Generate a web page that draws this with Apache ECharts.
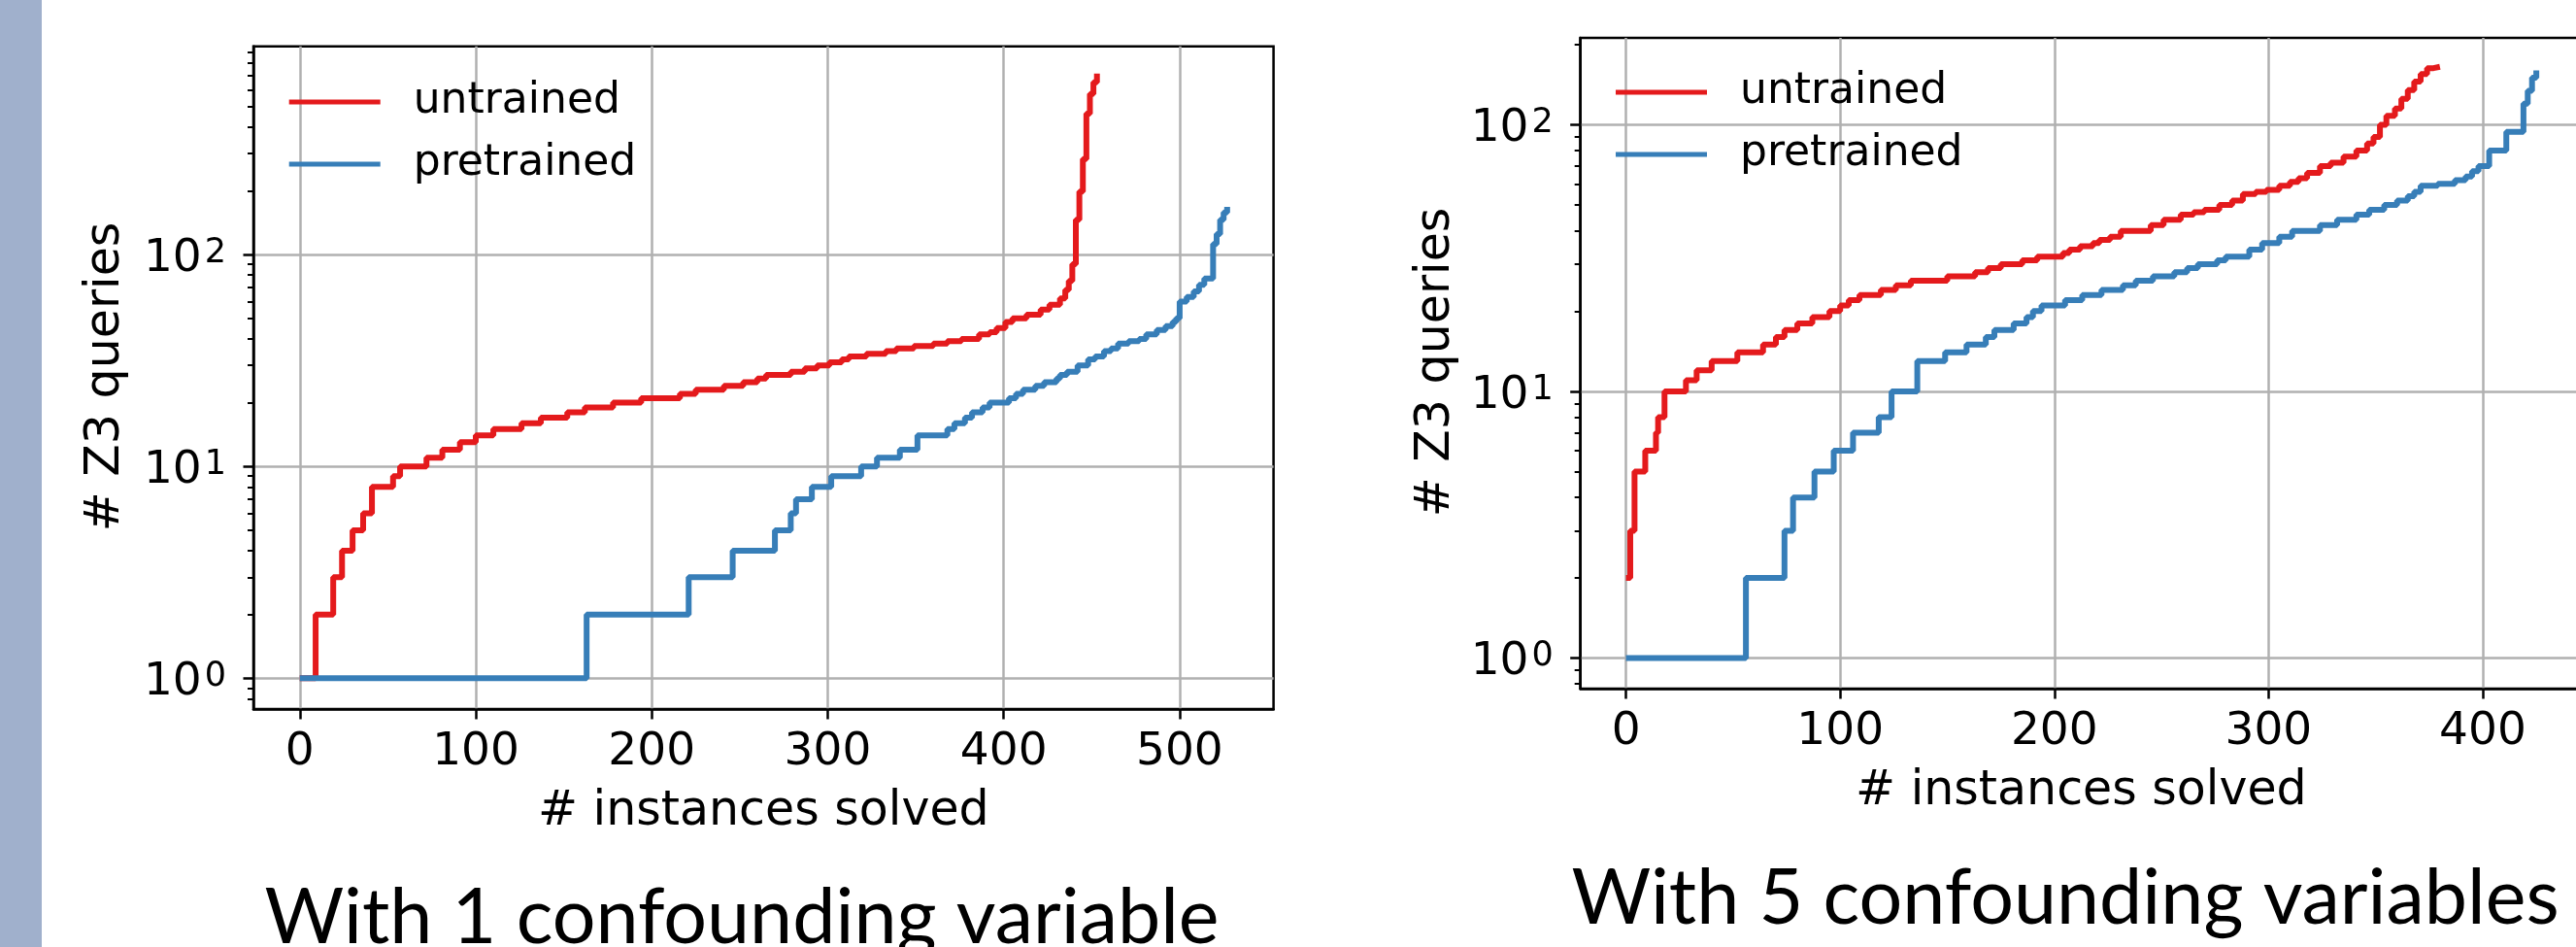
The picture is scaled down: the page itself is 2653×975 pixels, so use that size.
<!DOCTYPE html>
<html><head><meta charset="utf-8">
<script src="https://cdn.jsdelivr.net/npm/echarts@6/dist/echarts.min.js"></script>
<style>html,body{margin:0;padding:0;background:#fff;overflow:hidden}#c{width:2653px;height:975px}</style>
</head><body><div id="c"></div>
<script>
// ---------- data ----------
const seriesNames = ['untrained', 'pretrained'];
const xTicksLeft = [0, 100, 200, 300, 400, 500];
const xTicksRight = [0, 100, 200, 300, 400];
const yMajorTicks = [1, 10, 100];
const yMinorTicksLeft = [0.8, 0.9, 2, 3, 4, 5, 6, 7, 8, 9, 20, 30, 40, 50, 60, 70, 80, 90, 200, 300, 400, 500, 600, 700, 800, 900];
const yMinorTicksRight = [0.8, 0.9, 2, 3, 4, 5, 6, 7, 8, 9, 20, 30, 40, 50, 60, 70, 80, 90, 200];
const captions = ['With 1 confounding variable', 'With 5 confounding variables'];
const xTitle = '# instances solved';
const yTitle = '# Z3 queries';

// panel 1 (1 confounding variable): step breakpoints (instance index, queries)
const untrained1X = [0, 9, 19, 24, 30, 36, 41, 53, 57, 72, 81, 91, 100, 110, 126, 137, 152, 162, 178, 194, 216, 225, 241, 252, 260, 265, 279, 287, 294, 301, 308, 312, 322, 333, 339, 349, 360, 368, 376, 386, 392, 396, 401, 405, 413, 421, 426, 432, 435, 437, 439, 441, 443, 445, 447, 449, 451, 453];
const untrained1Y = [1, 2, 3, 4, 5, 6, 8, 9, 10, 11, 12, 13, 14, 15, 16, 17, 18, 19, 20, 21, 22, 23, 24, 25, 26, 27, 28, 29, 30, 31, 32, 33, 34, 35, 36, 37, 38, 39, 40, 42, 43, 45, 48, 50, 52, 55, 58, 62, 68, 75, 90, 146, 198, 282, 462, 572, 650, 714];
const pretrained1X = [0, 163, 221, 246, 270, 279, 282, 291, 302, 319, 328, 341, 351, 368, 372, 378, 382, 388, 392, 403, 407, 411, 418, 423, 430, 432, 436, 442, 448, 452, 457, 461, 465, 471, 477, 481, 487, 492, 496, 498, 500, 504, 508, 511, 514, 519, 521, 523, 525, 527];
const pretrained1Y = [1, 2, 3, 4, 5, 6, 7, 8, 9, 10, 11, 12, 14, 15, 16, 17, 18, 19, 20, 21, 22, 23, 24, 25, 26, 27, 28, 30, 32, 33, 35, 36, 38, 39, 40, 42, 44, 46, 48, 50, 60, 63, 67, 72, 77, 112, 125, 146, 158, 168];

// panel 2 (5 confounding variables)
const untrained5X = [0, 2, 4, 9, 14, 15, 18, 28, 33, 40, 52, 64, 70, 74, 80, 87, 95, 100, 104, 109, 119, 126, 133, 150, 163, 169, 175, 185, 192, 204, 207, 212, 218, 221, 226, 231, 245, 251, 259, 265, 270, 277, 283, 288, 294, 299, 305, 310, 314, 318, 324, 329, 335, 341, 346, 349, 352, 355, 359, 362, 365, 368, 371, 374, 377, 380];
const untrained5Y = [2, 3, 5, 6, 7, 8, 10, 11, 12, 13, 14, 15, 16, 17, 18, 19, 20, 21, 22, 23, 24, 25, 26, 27, 28, 29, 30, 31, 32, 33, 34, 35, 36, 37, 38, 40, 42, 44, 46, 47, 48, 50, 52, 55, 56, 57, 59, 61, 63, 66, 70, 72, 76, 80, 85, 90, 100, 108, 115, 125, 135, 145, 155, 163, 165, 165];
const pretrained5X = [0, 56, 74, 78, 88, 97, 106, 118, 124, 136, 149, 159, 168, 172, 181, 187, 190, 194, 205, 213, 222, 232, 238, 246, 256, 262, 267, 276, 280, 291, 297, 305, 311, 324, 332, 341, 347, 354, 360, 365, 368, 371, 379, 387, 392, 395, 398, 403, 411, 419, 421, 423, 425];
const pretrained5Y = [1, 2, 3, 4, 5, 6, 7, 8, 10, 13, 14, 15, 16, 17, 18, 19, 20, 21, 22, 23, 24, 25, 26, 27, 28, 29, 30, 31, 32, 34, 36, 38, 40, 42, 44, 46, 48, 50, 52, 54, 56, 59, 60, 62, 64, 67, 70, 80, 94, 120, 134, 150, 160];

// ---------- styling ----------
const RED = '#e41a1c', BLUE = '#377eb8';
const FONT = 'DejaVu Sans';
const GRIDC = '#b0b0b0';

function pairs(xs, ys) { return xs.map((x, i) => [x, ys[i]]); }
function supLabel(v) { const e = Math.round(Math.log10(v)); return '10{s|' + e + '}'; }

function xAxisCfg(gi, min, max, ticks) {
  return {
    type: 'value', gridIndex: gi, min: min, max: max,
    name: xTitle, nameLocation: 'middle', nameGap: 82,
    nameTextStyle: { fontFamily: FONT, fontSize: 49, color: '#000', verticalAlign: 'top' },
    axisLine: { show: true, onZero: false, lineStyle: { color: '#000', width: 2.5 } },
    axisTick: { show: true, length: 10.5, lineStyle: { color: '#000', width: 2.5 }, customValues: ticks },
    axisLabel: { show: true, margin: 21, fontFamily: FONT, fontSize: 47, color: '#000', customValues: ticks, showMinLabel: true, showMaxLabel: true },
    splitLine: { show: true, lineStyle: { color: GRIDC, width: 2.5 } }
  };
}
function yAxisMain(gi, min, max) {
  return {
    type: 'log', logBase: 10, gridIndex: gi, min: min, max: max, position: 'left',
    axisLine: { show: true, onZero: false, lineStyle: { color: '#000', width: 2.5 } },
    axisTick: { show: true, length: 10.5, lineStyle: { color: '#000', width: 2.5 }, customValues: yMajorTicks },
    axisLabel: {
      show: true, margin: 28, customValues: yMajorTicks, formatter: supLabel,
      fontFamily: FONT, fontSize: 47, color: '#000', padding: [9, 0, 0, 0],
      rich: { s: { fontFamily: FONT, fontSize: 35, color: '#000', lineHeight: 19, verticalAlign: 'top', padding: [0, 0, 0, 3] } }
    },
    splitLine: { show: true, lineStyle: { color: GRIDC, width: 2.5 } },
    minorTick: { show: false }
  };
}
function yAxisMinor(gi, min, max, ticks) {
  return {
    type: 'log', logBase: 10, gridIndex: gi, min: min, max: max, position: 'left', offset: 0,
    axisLine: { show: false, onZero: false },
    axisTick: { show: true, length: 6, lineStyle: { color: '#000', width: 2 }, customValues: ticks },
    axisLabel: { show: false },
    splitLine: { show: false }
  };
}
function lineSeries(name, color, xi, yi, data) {
  return {
    name: name, type: 'line', xAxisIndex: xi, yAxisIndex: yi, data: data,
    step: 'end', showSymbol: false, symbol: 'none', animation: false,
    lineStyle: { color: color, width: 6 },
    itemStyle: { color: color },
    emphasis: { disabled: true }
  };
}
function legendCfg(left, top) {
  return {
    data: seriesNames, orient: 'vertical', left: left, top: top, padding: 0,
    icon: 'rect', itemWidth: 94, itemHeight: 5, itemGap: 20,
    selectedMode: false,
    textStyle: { fontFamily: FONT, fontSize: 44, color: '#000', padding: [7, 0, 0, 29] }
  };
}

const chart = echarts.init(document.getElementById('c'), null, { renderer: 'canvas' });
chart.setOption({
  backgroundColor: '#fff',
  animation: false,
  grid: [
    { left: 261, top: 47.7, width: 1050.6, height: 682.3, containLabel: false, outerBoundsMode: 'none', show: true, borderColor: '#000', borderWidth: 2.5, backgroundColor: 'transparent' },
    { left: 1627.7, top: 39, width: 1031.3, height: 670, containLabel: false, outerBoundsMode: 'none', show: true, borderColor: '#000', borderWidth: 2.5, backgroundColor: 'transparent' }
  ],
  xAxis: [
    xAxisCfg(0, -26.35, 553.35, xTicksLeft),
    xAxisCfg(1, -21.25, 446.25, xTicksRight)
  ],
  yAxis: [
    yAxisMain(0, 0.716, 961),
    yAxisMinor(0, 0.716, 961, yMinorTicksLeft),
    yAxisMain(1, 0.768, 211.7),
    yAxisMinor(1, 0.768, 211.7, yMinorTicksRight)
  ],
  legend: [legendCfg(297.7, 83), legendCfg(1664, 73)],
  series: [
    lineSeries(seriesNames[0], RED, 0, 0, pairs(untrained1X, untrained1Y)),
    lineSeries(seriesNames[1], BLUE, 0, 0, pairs(pretrained1X, pretrained1Y)),
    lineSeries(seriesNames[0], RED, 1, 2, pairs(untrained5X, untrained5Y)),
    lineSeries(seriesNames[1], BLUE, 1, 2, pairs(pretrained5X, pretrained5Y))
  ],
  graphic: [
    { type: 'rect', left: 0, top: 0, shape: { x: 0, y: 0, width: 43, height: 975 }, style: { fill: '#a0b0cc' }, silent: true },
    { type: 'text', x: 109.5, y: 388, rotation: Math.PI / 2, style: { text: yTitle, fontFamily: FONT, fontSize: 49, fill: '#000', textAlign: 'center', textVerticalAlign: 'middle' } },
    { type: 'text', x: 1479, y: 373, rotation: Math.PI / 2, style: { text: yTitle, fontFamily: FONT, fontSize: 49, fill: '#000', textAlign: 'center', textVerticalAlign: 'middle' } },
    { type: 'text', x: 764, y: 946, style: { text: captions[0], fontFamily: 'Lato', fontSize: 79, fill: '#000', textAlign: 'center', textVerticalAlign: 'middle' } },
    { type: 'text', x: 2127, y: 926, style: { text: captions[1], fontFamily: 'Lato', fontSize: 79, fill: '#000', textAlign: 'center', textVerticalAlign: 'middle' } }
  ]
});
</script></body></html>
